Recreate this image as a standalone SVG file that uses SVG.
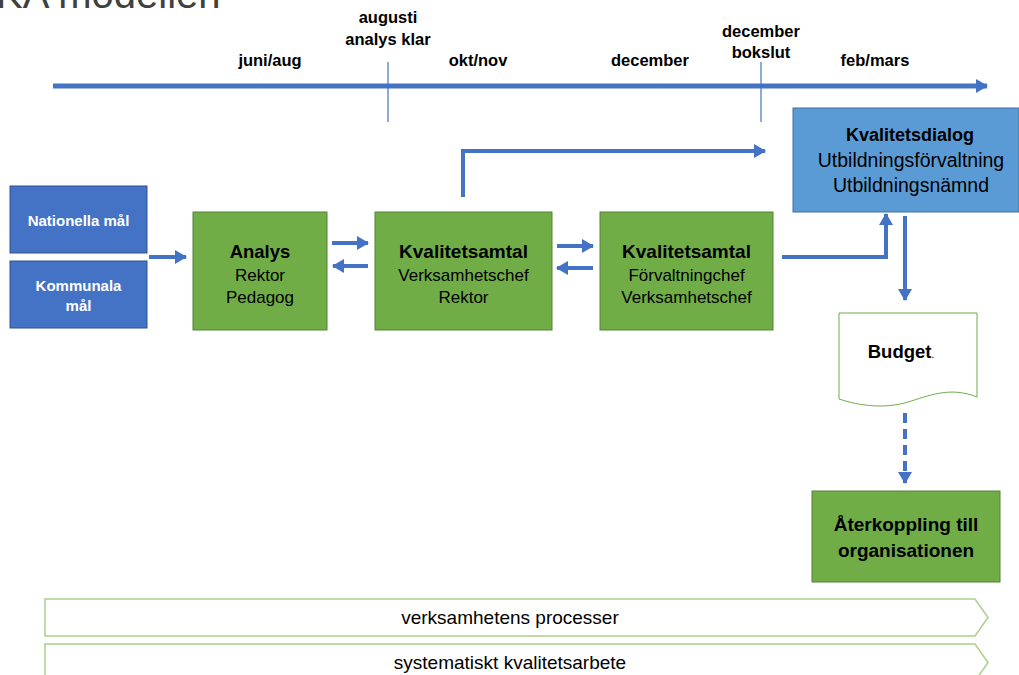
<svg xmlns="http://www.w3.org/2000/svg" width="1019" height="675" viewBox="0 0 1019 675">
<style>
.t{font-family:"Liberation Sans",Arial,sans-serif;fill:#000}
.b{font-weight:bold}
.lbl{font-family:"Liberation Sans",Arial,sans-serif;font-weight:bold;font-size:16.5px;fill:#000;text-anchor:middle}
.green{fill:#70AD47;stroke:#548235;stroke-width:1}
.blue{fill:#4472C4;stroke:#2F528F;stroke-width:1}
.conn{stroke:#4472C4;stroke-width:4;fill:none}
.thin{stroke:#4472C4;stroke-width:1.2;fill:none}
.chev{fill:#fff;stroke:#A9D18E;stroke-width:1.5}
</style>
<defs>
<marker id="ah" markerUnits="userSpaceOnUse" markerWidth="14" markerHeight="14" refX="11" refY="7" orient="auto">
<path d="M0,0 L12,7 L0,14 Z" fill="#4472C4"/>
</marker>
</defs>
<rect width="1019" height="675" fill="#fff"/>
<text x="-4" y="8" font-family="'Liberation Sans',Arial,sans-serif" font-size="40" fill="#404040">KA modellen</text>

<g id="timeline">
<line x1="53" y1="86" x2="987" y2="86" stroke="#4472C4" stroke-width="5" marker-end="url(#ah)"/>
<line class="thin" x1="388" y1="62" x2="388" y2="122"/>
<line class="thin" x1="761" y1="62" x2="761" y2="122"/>
<text class="lbl" x="270" y="66">juni/aug</text>
<text class="lbl" x="388" y="23">augusti</text>
<text class="lbl" x="388" y="45">analys klar</text>
<text class="lbl" x="478" y="66">okt/nov</text>
<text class="lbl" x="650" y="66">december</text>
<text class="lbl" x="761" y="37">december</text>
<text class="lbl" x="761" y="58">bokslut</text>
<text class="lbl" x="875" y="66">feb/mars</text>
</g>

<g id="nationella">
<rect class="blue" x="10" y="186" width="137" height="67"/>
<text class="t b" x="78.5" y="226" font-size="15" style="fill:#fff" text-anchor="middle">Nationella mål</text>
</g>
<g id="kommunala">
<rect class="blue" x="10" y="261" width="137" height="67"/>
<text class="t b" x="78.5" y="291" font-size="15" style="fill:#fff" text-anchor="middle">Kommunala</text>
<text class="t b" x="78.5" y="311" font-size="15" style="fill:#fff" text-anchor="middle">mål</text>
</g>

<g id="analys">
<rect class="green" x="193" y="212" width="134" height="118"/>
<text class="t b" x="260" y="258" font-size="18.5" text-anchor="middle">Analys</text>
<text class="t" x="260" y="281" font-size="17" text-anchor="middle">Rektor</text>
<text class="t" x="260" y="303" font-size="17" text-anchor="middle">Pedagog</text>
</g>

<g id="kval1">
<rect class="green" x="375" y="212" width="177" height="118"/>
<text class="t b" x="463.5" y="258" font-size="19" text-anchor="middle">Kvalitetsamtal</text>
<text class="t" x="463.5" y="281" font-size="17" text-anchor="middle">Verksamhetschef</text>
<text class="t" x="463.5" y="303" font-size="17" text-anchor="middle">Rektor</text>
</g>

<g id="kval2">
<rect class="green" x="600" y="212" width="173" height="118"/>
<text class="t b" x="686.5" y="258" font-size="19" text-anchor="middle">Kvalitetsamtal</text>
<text class="t" x="686.5" y="281" font-size="17" text-anchor="middle">Förvaltningchef</text>
<text class="t" x="686.5" y="303" font-size="17" text-anchor="middle">Verksamhetschef</text>
</g>

<g id="kvalitetsdialog">
<rect x="793" y="108" width="226" height="104" fill="#5B9BD5" stroke="#41719C" stroke-width="1"/>
<text class="t b" x="910" y="141" font-size="18" text-anchor="middle">Kvalitetsdialog</text>
<text class="t" x="911" y="167" font-size="19.5" text-anchor="middle">Utbildningsförvaltning</text>
<text class="t" x="911" y="192" font-size="19.5" text-anchor="middle">Utbildningsnämnd</text>
</g>

<g id="budget">
<path d="M839,313 H977 V397 C950,386 928,396 908,402 C885,409 860,406 839,399 Z" fill="#fff" stroke="#70AD47" stroke-width="1"/>
<text class="t b" x="901" y="358" font-size="18.5" text-anchor="middle">Budget<tspan font-weight="normal" font-size="10">.</tspan></text>
</g>

<g id="aterkoppling">
<rect class="green" x="812" y="491" width="188" height="91"/>
<text class="t b" x="906" y="531" font-size="19" text-anchor="middle">Återkoppling till</text>
<text class="t b" x="906" y="557" font-size="19" text-anchor="middle">organisationen</text>
</g>

<g id="processer">
<path class="chev" d="M45,599 H975 L988,617.5 L975,636 H45 Z"/>
<text class="t" x="510" y="624" font-size="19" text-anchor="middle">verksamhetens processer</text>
</g>
<g id="kvalitetsarbete">
<path class="chev" d="M45,644 H975 L988,662.5 L975,681 H45 Z"/>
<text class="t" x="510" y="669" font-size="19" text-anchor="middle">systematiskt kvalitetsarbete</text>
</g>

<g id="connectors">
<line class="conn" x1="149" y1="257" x2="186" y2="257" marker-end="url(#ah)"/>
<line class="conn" x1="332" y1="243" x2="368" y2="243" marker-end="url(#ah)"/>
<line class="conn" x1="368" y1="266" x2="333" y2="266" marker-end="url(#ah)"/>
<line class="conn" x1="557" y1="246" x2="593" y2="246" marker-end="url(#ah)"/>
<line class="conn" x1="593" y1="268" x2="557" y2="268" marker-end="url(#ah)"/>
<path class="conn" d="M463,197 V151 H765" marker-end="url(#ah)"/>
<path class="conn" d="M782,257 H886 V214" marker-end="url(#ah)"/>
<line class="conn" x1="905" y1="216" x2="905" y2="300" marker-end="url(#ah)"/>
<line class="conn" x1="905" y1="413" x2="905" y2="483" stroke-dasharray="10,6" marker-end="url(#ah)"/>
</g>
</svg>
